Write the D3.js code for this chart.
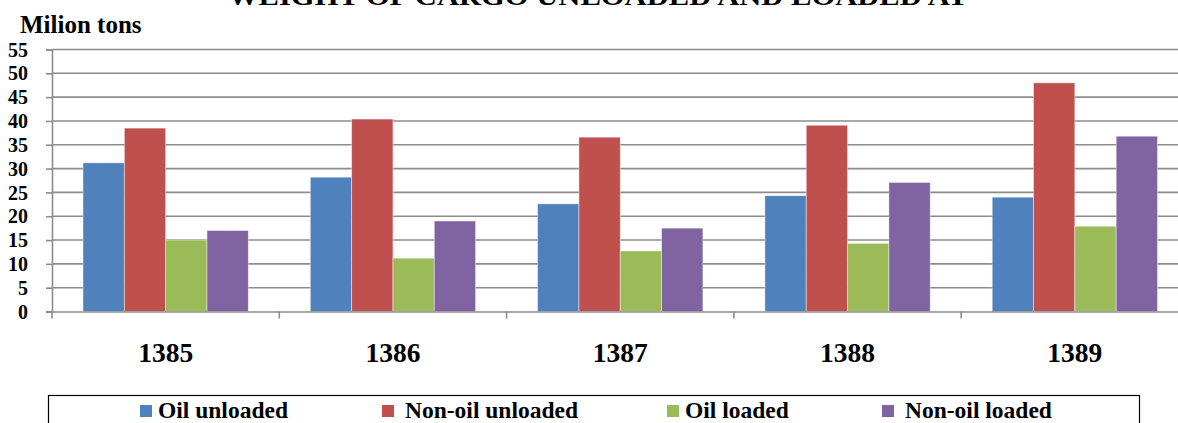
<!DOCTYPE html>
<html><head><meta charset="utf-8">
<script src="https://cdn.jsdelivr.net/npm/d3@7"></script>
<style>html,body{margin:0;padding:0;background:#fff;overflow:hidden}</style>
</head><body>
<svg id="c" width="1178" height="423"></svg>
<script>
const categories = ["1385","1386","1387","1388","1389"];
const seriesNames = ["Oil unloaded","Non-oil unloaded","Oil loaded","Non-oil loaded"];
const oilUnloaded    = [31.2, 28.2, 22.6, 24.3, 24.0];
const nonOilUnloaded = [38.5, 40.4, 36.6, 39.1, 48.0];
const oilLoaded      = [15.0, 11.2, 12.7, 14.3, 17.9];
const nonOilLoaded   = [17.0, 19.0, 17.5, 27.1, 36.8];
const yTicks = [0,5,10,15,20,25,30,35,40,45,50,55];
const colors = ["#4F81BD","#C0504D","#9BBB59","#8064A2"];
const seriesValues = [oilUnloaded, nonOilUnloaded, oilLoaded, nonOilLoaded];

const svg = d3.select("#c");
const font = "'Liberation Serif','Times New Roman',serif";
const x0L = 52, bandW = 227.3;
const x0 = d3.scaleBand().domain(categories).range([x0L, x0L + bandW*categories.length]).paddingInner(0).paddingOuter(0);
const x1 = d3.scaleBand().domain(seriesNames).range([0, x0.bandwidth()]).paddingInner(0).paddingOuter(0.75);
const y = d3.scaleLinear().domain([0,55]).range([311.5, 49.5]);

// title (partially cut off at top, as in the reference)
svg.append("text").attr("x", 598).attr("y", 5).attr("text-anchor","middle")
  .attr("font-family", font).attr("font-weight","bold").attr("font-size", 26)
  .attr("textLength", 740).attr("lengthAdjust","spacingAndGlyphs")
  .text("WEIGHT OF CARGO UNLOADED AND LOADED AT");

svg.append("text").attr("x", 20).attr("y", 33)
  .attr("font-family", font).attr("font-weight","bold").attr("font-size", 25)
  .text("Milion tons");

// gridlines
svg.append("g").selectAll("line").data(yTicks.filter(d=>d>0)).join("line")
  .attr("x1", x0L).attr("x2", 1178).attr("y1", d=>y(d)).attr("y2", d=>y(d))
  .attr("stroke", "#8c8c8c").attr("stroke-width", 1.6);

// y axis
const yAxis = d3.axisLeft(y).tickValues(yTicks).tickSize(6).tickPadding(18).tickFormat(d3.format("d"));
const gy = svg.append("g").attr("transform", `translate(${x0L},0)`).call(yAxis);
gy.select(".domain").attr("stroke","#8c8c8c").attr("stroke-width",1.6);
gy.selectAll(".tick line").attr("stroke","#8c8c8c").attr("stroke-width",1.6);
gy.selectAll(".tick text").attr("font-family", font).attr("font-weight","bold").attr("font-size", 20).attr("fill","#000").attr("dy","0.33em");

// bars
const g = svg.append("g");
categories.forEach((c, ci) => {
  seriesNames.forEach((s, si) => {
    const v = seriesValues[si][ci];
    g.append("rect")
      .attr("x", x0(c) + x1(s)).attr("width", x1.bandwidth())
      .attr("y", y(v)).attr("height", y(0) - y(v))
      .attr("fill", colors[si]).attr("stroke","rgba(255,255,255,0.55)").attr("stroke-width",0.8);
  });
});

// x axis
const xAxis = d3.axisBottom(x0).tickSize(0).tickFormat("");
const gx = svg.append("g").attr("transform", `translate(0,${y(0)})`).call(xAxis);
gx.select(".domain").attr("stroke","#8c8c8c").attr("stroke-width",1.6);
const bounds = categories.map(c => x0(c)).concat([x0(categories[categories.length-1]) + x0.bandwidth()]);
svg.append("g").selectAll("line").data(bounds).join("line")
  .attr("x1", d=>d).attr("x2", d=>d).attr("y1", y(0)).attr("y2", y(0)+7)
  .attr("stroke","#8c8c8c").attr("stroke-width",1.6);
svg.append("g").selectAll("text").data(categories).join("text")
  .attr("x", d => x0(d) + x0.bandwidth()/2).attr("y", 362).attr("text-anchor","middle")
  .attr("font-family", font).attr("font-weight","bold").attr("font-size", 27.5)
  .text(d=>d);

// legend
svg.append("rect").attr("x", 48.5).attr("y", 395.5).attr("width", 1091).attr("height", 40)
  .attr("fill","none").attr("stroke","#000").attr("stroke-width",1.2);
const legendX = [140, 382, 667, 882];
const lg = svg.append("g").selectAll("g").data(seriesNames).join("g")
  .attr("transform", (d,i)=>`translate(${legendX[i]},0)`);
lg.append("rect").attr("x",0).attr("y",405).attr("width",12).attr("height",12).attr("fill",(d,i)=>colors[i]);
lg.append("text").attr("x", (d,i)=> i===0||i===2 ? 18 : 23).attr("y", 418)
  .attr("font-family", font).attr("font-weight","bold").attr("font-size", 23.5)
  .text(d=>d);
</script>
</body></html>
